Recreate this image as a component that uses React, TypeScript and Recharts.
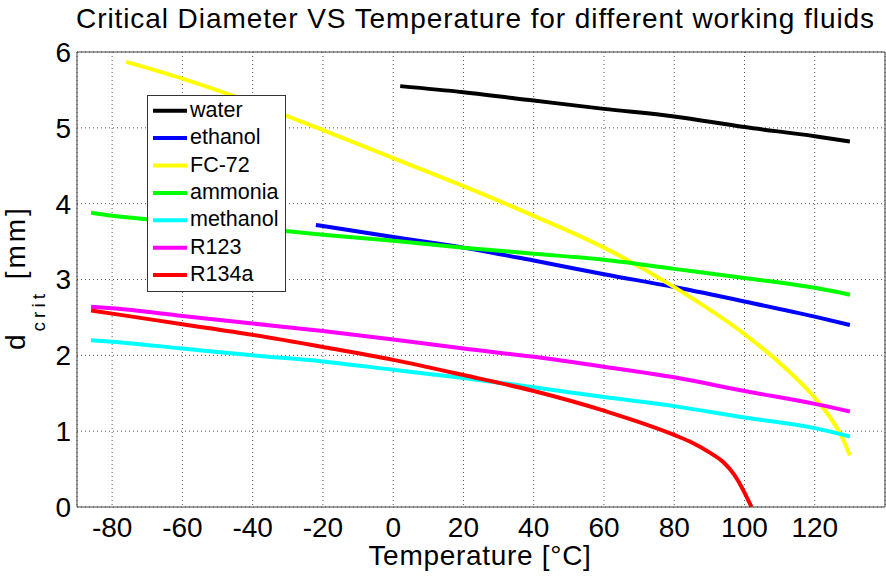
import React from 'react';
import { LineChart, Line, XAxis, YAxis, CartesianGrid } from 'recharts';

// Temperature [°C] / critical diameter [mm] for each working fluid
const waterT = [2, 20, 40, 60, 80, 100, 120, 130];
const waterD = [5.55, 5.47, 5.36, 5.25, 5.15, 5.01, 4.89, 4.82];

const ethanolT = [-22, 0, 20, 40, 60, 80, 100, 120, 130];
const ethanolD = [3.72, 3.56, 3.42, 3.25, 3.07, 2.9, 2.71, 2.51, 2.4];

const fc72T = [-76, -60, -40, -20, 0, 20, 40, 60, 80, 100, 110, 120, 125, 128, 130];
const fc72D = [5.87, 5.65, 5.33, 4.97, 4.6, 4.23, 3.84, 3.42, 2.9, 2.28, 1.9, 1.44, 1.14, 0.9, 0.68];

const ammoniaT = [-86, -80, -60, -40, -20, 0, 20, 40, 60, 80, 100, 120, 130];
const ammoniaD = [3.88, 3.84, 3.76, 3.68, 3.59, 3.51, 3.42, 3.34, 3.26, 3.14, 3.02, 2.89, 2.8];

const methanolT = [-86, -80, -60, -40, -20, 0, 20, 40, 60, 80, 100, 120, 130];
const methanolD = [2.2, 2.18, 2.09, 2.0, 1.92, 1.81, 1.7, 1.58, 1.45, 1.33, 1.18, 1.04, 0.93];

const r123T = [-86, -80, -60, -40, -20, 0, 20, 40, 60, 80, 100, 120, 130];
const r123D = [2.64, 2.62, 2.52, 2.42, 2.32, 2.21, 2.09, 1.98, 1.85, 1.71, 1.53, 1.36, 1.26];

const r134aT = [-86, -80, -60, -40, -20, 0, 20, 40, 60, 80, 85, 90, 94, 96, 98, 100, 102];
const r134aD = [2.59, 2.55, 2.41, 2.27, 2.11, 1.94, 1.74, 1.53, 1.27, 0.95, 0.85, 0.72, 0.59, 0.49, 0.36, 0.19, 0];

const xTicks = [-80, -60, -40, -20, 0, 20, 40, 60, 80, 100, 120];
const yTicks = [0, 1, 2, 3, 4, 5, 6];
const xDomain = [-90, 140];
const yDomain = [0, 6];

const series = [
  { name: 'water', color: '#000000', t: waterT, d: waterD },
  { name: 'ethanol', color: '#0000ff', t: ethanolT, d: ethanolD },
  { name: 'FC-72', color: '#ffff00', t: fc72T, d: fc72D },
  { name: 'ammonia', color: '#00ff00', t: ammoniaT, d: ammoniaD },
  { name: 'methanol', color: '#00ffff', t: methanolT, d: methanolD },
  { name: 'R123', color: '#ff00ff', t: r123T, d: r123D },
  { name: 'R134a', color: '#ff0000', t: r134aT, d: r134aD },
];

const toRows = (t: number[], d: number[]) => t.map((x, i) => ({ t: x, d: d[i] }));

const FONT = '"Liberation Sans", Arial, Helvetica, sans-serif';
const FRAME = '#404040';

const XLabel = () => (
  <text x={480} y={565} textAnchor="middle" fontSize={28} fontFamily={FONT} fill="#000" letterSpacing={0.7}>
    Temperature [°C]
  </text>
);

const YLabel = () => (
  <text transform="translate(25,350) rotate(-90)" textAnchor="start" fontSize={28} fontFamily={FONT} fill="#000">
    d
    <tspan dx={3} dy={20} fontSize={19} letterSpacing={4}>crit</tspan>
    <tspan dy={-20} fontSize={28} letterSpacing={3}> [mm]</tspan>
  </text>
);

const Legend = () => {
  const rowH = 27.4;
  const top = 110.7;
  return (
    <svg width={886} height={576} style={{ position: 'absolute', left: 0, top: 0, pointerEvents: 'none' }}>
      <rect x={147.5} y={95.5} width={138} height={196} fill="#fff" stroke="#333" strokeWidth={1} />
      {series.map((s, i) => (
        <g key={s.name}>
          <line x1={153} x2={187} y1={top + i * rowH} y2={top + i * rowH} stroke={s.color} strokeWidth={4} />
          <text x={190} y={top + i * rowH + 6} fontSize={21.5} fontFamily={FONT} fill="#000">
            {s.name}
          </text>
        </g>
      ))}
    </svg>
  );
};

export default function App() {
  return (
    <div style={{ position: 'absolute', left: 0, top: 0, width: 886, height: 576, background: '#fff', fontFamily: FONT }}>
      <div
        style={{
          position: 'absolute',
          left: 76,
          top: 4.6,
          fontSize: 28,
          lineHeight: '28px',
          whiteSpace: 'nowrap',
          letterSpacing: '0.92px',
          color: '#000',
        }}
      >
        Critical Diameter VS Temperature for different working fluids
      </div>
      <div style={{ position: 'absolute', left: 0, top: 0 }}>
        <LineChart width={886} height={576} margin={{ top: 52, right: 1, bottom: 29, left: 17 }}>
          <CartesianGrid stroke="#555" strokeDasharray="1 3" />
          <XAxis
            type="number"
            dataKey="t"
            domain={xDomain}
            ticks={xTicks}
            allowDataOverflow
            interval={0}
            tickLine={false}
            axisLine={false}
            tickSize={0}
            tickMargin={10}
            height={40}
            tick={{ fontSize: 28, fill: '#000', fontFamily: FONT }}
            label={{ content: () => <XLabel /> }}
          />
          <XAxis
            xAxisId="xb"
            type="number"
            domain={xDomain}
            ticks={xTicks}
            allowDataOverflow
            interval={0}
            orientation="bottom"
            mirror
            tick={false}
            tickSize={8}
            tickLine={{ stroke: FRAME }}
            axisLine={{ stroke: FRAME }}
            height={10}
          />
          <XAxis
            xAxisId="xt"
            type="number"
            domain={xDomain}
            ticks={xTicks}
            allowDataOverflow
            interval={0}
            orientation="top"
            mirror
            tick={false}
            tickSize={8}
            tickLine={{ stroke: FRAME }}
            axisLine={{ stroke: FRAME }}
            height={10}
          />
          <YAxis
            type="number"
            domain={yDomain}
            ticks={yTicks}
            allowDataOverflow
            interval={0}
            width={60}
            tickLine={false}
            axisLine={false}
            tickSize={0}
            tickMargin={6}
            tick={{ fontSize: 28, fill: '#000', fontFamily: FONT }}
            label={{ content: () => <YLabel /> }}
          />
          <YAxis
            yAxisId="yl"
            type="number"
            domain={yDomain}
            ticks={yTicks}
            allowDataOverflow
            interval={0}
            orientation="left"
            mirror
            tick={false}
            tickSize={8}
            tickLine={{ stroke: FRAME }}
            axisLine={{ stroke: FRAME }}
            width={10}
          />
          <YAxis
            yAxisId="yr"
            type="number"
            domain={yDomain}
            ticks={yTicks}
            allowDataOverflow
            interval={0}
            orientation="right"
            mirror
            tick={false}
            tickSize={8}
            tickLine={{ stroke: FRAME }}
            axisLine={{ stroke: FRAME }}
            width={10}
          />
          {series.map((s) => (
            <Line
              key={s.name}
              data={toRows(s.t, s.d)}
              dataKey="d"
              name={s.name}
              type="monotone"
              stroke={s.color}
              strokeWidth={4}
              dot={false}
              activeDot={false}
              isAnimationActive={false}
            />
          ))}
        </LineChart>
      </div>
      <Legend />
    </div>
  );
}
